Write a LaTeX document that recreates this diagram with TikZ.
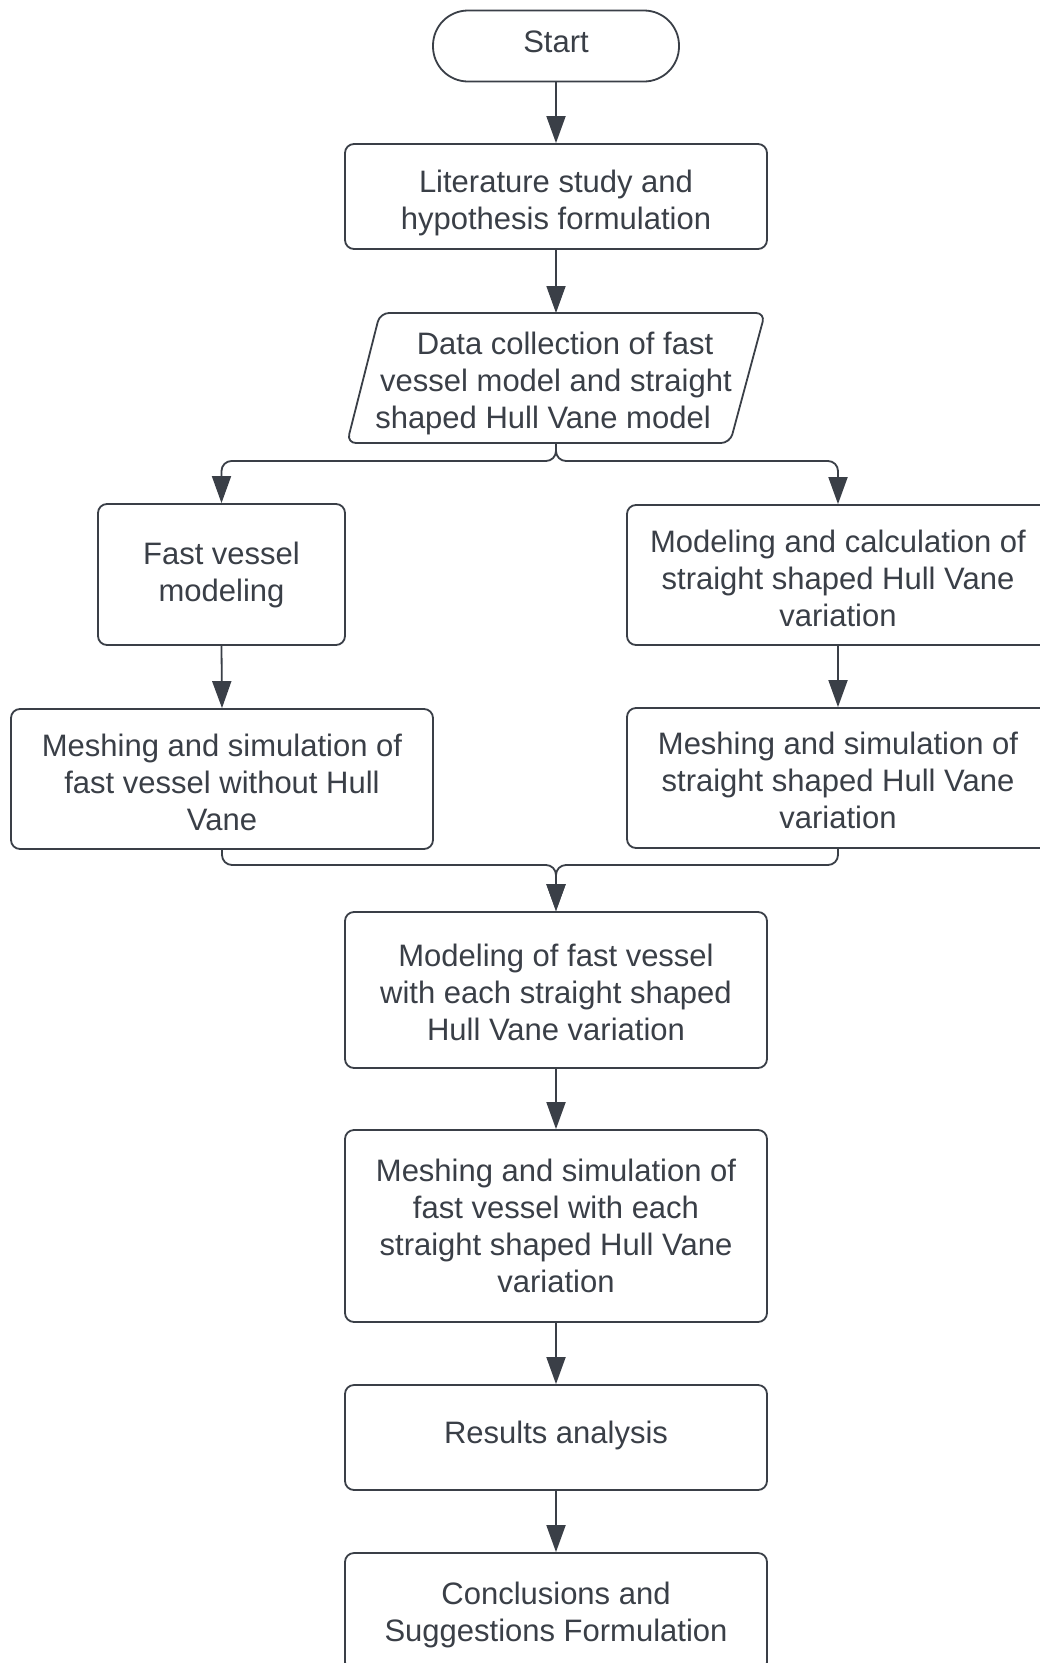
\documentclass[tikz,border=0pt]{standalone}
\usepackage{fontspec}
\setmainfont{Liberation Sans}
\usetikzlibrary{arrows.meta}
\definecolor{ink}{HTML}{3A3F47}
\begin{document}
\begin{tikzpicture}[x=1pt,y=-1pt,
  every node/.style={font=\fontsize{31}{37}\selectfont, text=ink, align=center, inner sep=0pt},
  box/.style={draw=ink, line width=1.8pt, rounded corners=9pt, fill=white},
  conn/.style={draw=ink, line width=1.8pt, -{Triangle[length=27pt,width=19pt]}},
  branch/.style={conn, rounded corners=10pt},
  txt/.style 2 args={label={[yshift=#1]center:{#2}}}]
\useasboundingbox (0,0) rectangle (1040,1663);
\clip (0,0) rectangle (1040,1663);
\fill[white] (0,0) rectangle (1040,1663);

\node[box, rounded corners=35pt, minimum width=246pt, minimum height=71pt,
  txt={4pt}{Start}] (start) at (556,46) {};
\node[box, minimum width=422pt, minimum height=105pt,
  txt={-6pt}{Literature study and\\hypothesis formulation}] (lit) at (556,196.5) {};

% parallelogram
\draw[draw=ink, line width=1.8pt, rounded corners=9pt, fill=white] (380,313) -- (765,313) -- (730,443) -- (347,443) -- cycle;
\node[yshift=-5pt] (data) at (556,378) {\hspace*{18pt}Data collection of fast\\vessel model and straight\\shaped Hull Vane model\hspace*{26pt}};
\coordinate (dataN) at (556,313);
\coordinate (dataS) at (556,443);

\node[box, minimum width=247pt, minimum height=141pt,
  txt={0pt}{Fast vessel\\modeling}] (fast) at (221.5,574.5) {};
\node[box, minimum width=422pt, minimum height=140pt,
  txt={-3pt}{Meshing and simulation of\\fast vessel without Hull\\Vane}] (mesh1) at (222,779) {};
\node[box, minimum width=422pt, minimum height=140pt,
  txt={-3pt}{Modeling and calculation of\\straight shaped Hull Vane\\variation}] (calc) at (838,575) {};
\node[box, minimum width=422pt, minimum height=140pt,
  txt={-2pt}{Meshing and simulation of\\straight shaped Hull Vane\\variation}] (mesh2) at (838,778) {};
\node[box, minimum width=422pt, minimum height=156pt,
  txt={-2pt}{Modeling of fast vessel\\with each straight shaped\\Hull Vane variation}] (each) at (556,990) {};
\node[box, minimum width=422pt, minimum height=192pt,
  txt={0pt}{Meshing and simulation of\\fast vessel with each\\straight shaped Hull Vane\\variation}] (mesheach) at (556,1226) {};
\node[box, minimum width=422pt, minimum height=105pt,
  txt={2pt}{Results analysis}] (res) at (556,1437.5) {};
\node[box, minimum width=422pt, minimum height=118pt,
  txt={-3pt}{Conclusions and\\Suggestions Formulation}] (concl) at (556,1612) {};

\coordinate (split) at (556,461);
\coordinate (merge) at (556,865);

\draw[conn] (start.south) -- (lit.north);
\draw[conn] (lit.south) -- (dataN);
\draw[branch] (dataS) |- (split) -| (fast.north);
\draw[branch] (dataS) |- (split) -| (calc.north);
\draw[conn] (fast.south) -- (mesh1.north);
\draw[conn] (calc.south) -- (mesh2.north);
\draw[branch] (mesh1.south) |- (merge) -- (each.north);
\draw[branch] (mesh2.south) |- (merge) -- (each.north);
\draw[conn] (each.south) -- (mesheach.north);
\draw[conn] (mesheach.south) -- (res.north);
\draw[conn] (res.south) -- (concl.north);
\end{tikzpicture}
\end{document}
